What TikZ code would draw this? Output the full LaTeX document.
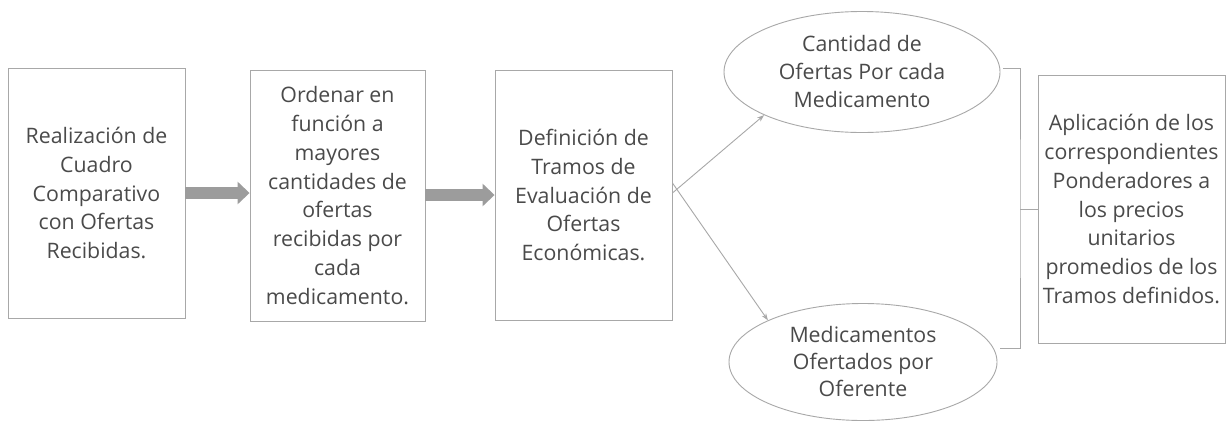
\documentclass[tikz,border=0pt]{standalone}
\usepackage{fontspec}
\setmainfont{Open Sans}
\usetikzlibrary{arrows.meta,shapes.geometric}
\definecolor{txt}{HTML}{4A4A4A}
\definecolor{brd}{HTML}{A8A8A8}
\definecolor{fat}{HTML}{9C9C9C}
\begin{document}
\begin{tikzpicture}[x=1pt,y=-1pt,
  every node/.style={text=txt,font=\fontsize{21.3}{28.8}\selectfont,align=center,inner sep=0pt},
  rbox/.style={draw=brd,line width=0.9pt,minimum width=#1,rectangle},
  oval/.style={draw=brd,line width=0.9pt,ellipse,minimum width=276pt,minimum height=121pt},
  fatarrow/.style={draw=fat,line width=12pt,-{Triangle[length=12pt,width=22pt]}},
  thinarrow/.style={draw=brd,line width=0.9pt,-{Stealth[length=7pt,width=5pt]}},
  bracket/.style={draw=brd,line width=1pt}]
\useasboundingbox[fill=white] (0,0) rectangle (1227,424);
\node[rbox=177pt,minimum height=250pt] (b1) at (96.5,193) {Realización de\\Cuadro\\Comparativo\\con Ofertas\\Recibidas.};
\node[rbox=175pt,minimum height=251pt] (b2) at (337.5,195.5) {Ordenar en\\función a\\mayores\\cantidades de\\ofertas\\recibidas por\\cada\\medicamento.};
\node[rbox=177pt,minimum height=250pt] (b3) at (583.5,195) {Definición de\\Tramos de\\Evaluación de\\Ofertas\\Económicas.};
\node[oval,font=\fontsize{21.3}{28}\selectfont] (e1) at (862,72) {Cantidad de\\Ofertas Por cada\\Medicamento};
\node[oval,minimum width=268pt,minimum height=117pt,font=\fontsize{21.3}{27}\selectfont] (e2) at (863,362) {Medicamentos\\Ofertados por\\Oferente};
\node[rbox=187pt,minimum height=268pt] (b4) at (1131.5,209) {Aplicación de los\\correspondientes\\Ponderadores a\\los precios\\unitarios\\promedios de los\\Tramos definidos.};
\draw[fatarrow] (b1.east |- 0,193) -- (b2.west |- 0,193);
\draw[fatarrow] (b2.east |- 0,195) -- (b3.west |- 0,195);
\draw[thinarrow] ([yshift=2pt]b3.east) -- (e1.south west);
\draw[thinarrow] ([yshift=12pt]b3.east) -- (e2.north west);
\coordinate (bt) at (1003,68);
\coordinate (bm) at (1020,209);
\coordinate (bb) at (1000,348);
\draw[bracket] (bt) -| (bm) |- (bb);
\draw[bracket] (bm) -- (b4.west);
\end{tikzpicture}
\end{document}
